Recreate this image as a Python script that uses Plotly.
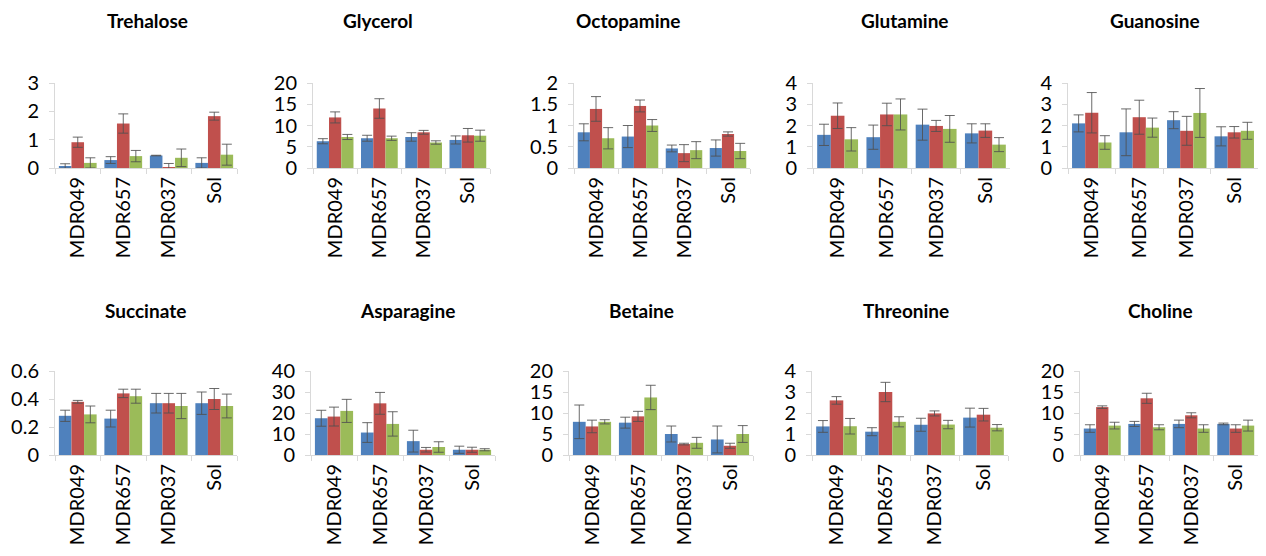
import plotly.graph_objects as go

# The page body has an 8px margin, so the figure is drawn 16px smaller
OFF = 8
W, H = 1266 - 2 * OFF, 556 - 2 * OFF

categories = ["MDR049", "MDR657", "MDR037", "Sol"]
series_colors = ["#4F81BD", "#C0504D", "#9BBB59"]

titles = ["Trehalose", "Glycerol", "Octopamine", "Glutamine", "Guanosine",
          "Succinate", "Asparagine", "Betaine", "Threonine", "Choline"]

# values per panel: [blue, red, green]
trehalose_vals = [[0.07, 0.28, 0.44, 0.18], [0.91, 1.57, 0.03, 1.83], [0.18, 0.42, 0.36, 0.47]]
trehalose_errs = [[0.08, 0.12, 0.01, 0.18], [0.18, 0.34, 0.13, 0.14], [0.18, 0.20, 0.31, 0.37]]

glycerol_vals = [[6.3, 7.0, 7.3, 6.6], [11.9, 14.0, 8.4, 7.7], [7.3, 7.0, 6.0, 7.6]]
glycerol_errs = [[0.6, 0.7, 1.0, 0.95], [1.3, 2.3, 0.45, 1.6], [0.6, 0.5, 0.4, 1.3]]

octopamine_vals = [[0.84, 0.74, 0.46, 0.47], [1.39, 1.46, 0.35, 0.80], [0.70, 1.00, 0.42, 0.40]]
octopamine_errs = [[0.20, 0.26, 0.08, 0.19], [0.29, 0.14, 0.20, 0.05], [0.25, 0.14, 0.20, 0.18]]

glutamine_vals = [[1.56, 1.45, 2.04, 1.63], [2.46, 2.52, 1.98, 1.76], [1.35, 2.52, 1.84, 1.10]]
glutamine_errs = [[0.50, 0.57, 0.73, 0.45], [0.60, 0.53, 0.26, 0.32], [0.55, 0.73, 0.63, 0.33]]

guanosine_vals = [[2.10, 1.68, 2.25, 1.49], [2.60, 2.39, 1.75, 1.68], [1.20, 1.90, 2.59, 1.75]]
guanosine_errs = [[0.40, 1.10, 0.40, 0.45], [0.95, 0.80, 0.68, 0.27], [0.32, 0.45, 1.15, 0.40]]

succinate_vals = [[0.28, 0.26, 0.37, 0.37], [0.38, 0.44, 0.37, 0.40], [0.29, 0.42, 0.35, 0.35]]
succinate_errs = [[0.04, 0.06, 0.07, 0.08], [0.01, 0.03, 0.07, 0.075], [0.06, 0.05, 0.09, 0.085]]

asparagine_vals = [[17.5, 10.7, 6.6, 2.5], [18.3, 24.6, 2.5, 2.5], [21.0, 14.8, 3.8, 2.5]]
asparagine_errs = [[3.8, 4.7, 5.2, 1.7], [4.5, 5.2, 1.1, 1.2], [5.5, 5.8, 2.5, 0.5]]

betaine_vals = [[7.9, 7.7, 5.0, 3.7], [6.8, 9.2, 2.6, 2.2], [7.9, 13.7, 2.9, 5.0]]
betaine_errs = [[4.0, 1.3, 1.9, 3.2], [1.5, 1.2, 0.2, 0.6], [0.5, 2.9, 1.3, 2.0]]

threonine_vals = [[1.36, 1.11, 1.44, 1.78], [2.60, 3.00, 1.98, 1.92], [1.37, 1.58, 1.45, 1.30]]
threonine_errs = [[0.28, 0.19, 0.31, 0.45], [0.18, 0.46, 0.12, 0.30], [0.37, 0.24, 0.20, 0.15]]

choline_vals = [[6.3, 7.4, 7.4, 7.4], [11.4, 13.5, 9.45, 6.3], [7.0, 6.6, 6.3, 7.0]]
choline_errs = [[0.9, 0.6, 0.9, 0.2], [0.3, 1.2, 0.6, 0.9], [0.8, 0.6, 0.9, 1.3]]

y_max = [3, 20, 2, 4, 4, 0.6, 40, 20, 4, 20]
y_dtick = [1, 5, 0.5, 1, 1, 0.2, 10, 5, 1, 5]

panel_vals = [trehalose_vals, glycerol_vals, octopamine_vals, glutamine_vals, guanosine_vals,
              succinate_vals, asparagine_vals, betaine_vals, threonine_vals, choline_vals]
panel_errs = [trehalose_errs, glycerol_errs, octopamine_errs, glutamine_errs, guanosine_errs,
              succinate_errs, asparagine_errs, betaine_errs, threonine_errs, choline_errs]

# layout in screen pixels of the reference
x_px = [(55, 237), (313, 490), (574, 750), (813, 1010), (1068, 1258),
        (55, 237), (311, 495), (569, 753), (812, 1008), (1080, 1258)]
row_y_px = [(83, 168), (371, 455)]
title_x_px = [147, 378, 628, 905, 1155, 145, 407, 641, 906, 1160]
title_y_px = [20, 310]


def fx(px):
    return min(1.0, max(0.0, (px - OFF) / W))


def fy(px):
    return min(1.0, max(0.0, 1 - (px - OFF) / H))


FONT = "Lato, Calibri, Carlito, sans-serif"

fig = go.Figure()
layout = dict(
    width=W, height=H,
    margin=dict(l=0, r=0, t=0, b=0, autoexpand=False),
    paper_bgcolor="white", plot_bgcolor="white",
    showlegend=False, barmode="group", bargap=0.17, bargroupgap=0,
    font=dict(family=FONT, color="#000000"),
)
annotations = []

for i in range(10):
    n = i + 1
    xa = "x" if n == 1 else f"x{n}"
    ya = "y" if n == 1 else f"y{n}"
    row = 0 if i < 5 else 1
    for s in range(3):
        fig.add_trace(go.Bar(
            x=categories, y=panel_vals[i][s],
            error_y=dict(type="data", array=panel_errs[i][s], visible=True,
                         color="rgba(80,80,80,0.85)", thickness=1, width=5),
            marker=dict(color=series_colors[s], line=dict(width=0)),
            xaxis=xa, yaxis=ya, name=f"{titles[i]} {s+1}",
        ))
    x0, x1 = x_px[i]
    yt, yb = row_y_px[row]
    layout["xaxis" if n == 1 else f"xaxis{n}"] = dict(
        domain=[fx(x0), fx(x1)], anchor=ya, type="category",
        showline=True, linecolor="#D9D9D9", linewidth=1,
        ticks="outside", tickson="boundaries", ticklen=5, tickcolor="#D9D9D9",
        tickangle=-90, tickfont=dict(size=20, family=FONT, color="#000"),
        showgrid=False, zeroline=False, fixedrange=True, automargin=False,
    )
    layout["yaxis" if n == 1 else f"yaxis{n}"] = dict(
        domain=[fy(yb), fy(yt)], anchor=xa,
        range=[0, y_max[i]], dtick=y_dtick[i], tick0=0,
        showline=True, linecolor="#D9D9D9", linewidth=1,
        ticks="outside", ticklen=5, tickcolor="#D9D9D9",
        tickfont=dict(size=20, family=FONT, color="#000"),
        ticklabelstandoff=6,
        showgrid=False, zeroline=False, fixedrange=True, automargin=False,
    )
    annotations.append(dict(
        text=f"<b>{titles[i]}</b>", x=fx(title_x_px[i]), y=fy(title_y_px[row]),
        xref="paper", yref="paper", xanchor="center", yanchor="middle",
        showarrow=False, font=dict(size=19, family=FONT, color="#000"),
    ))

layout["annotations"] = annotations
fig.update_layout(**layout)
fig.write_html("out.html")
